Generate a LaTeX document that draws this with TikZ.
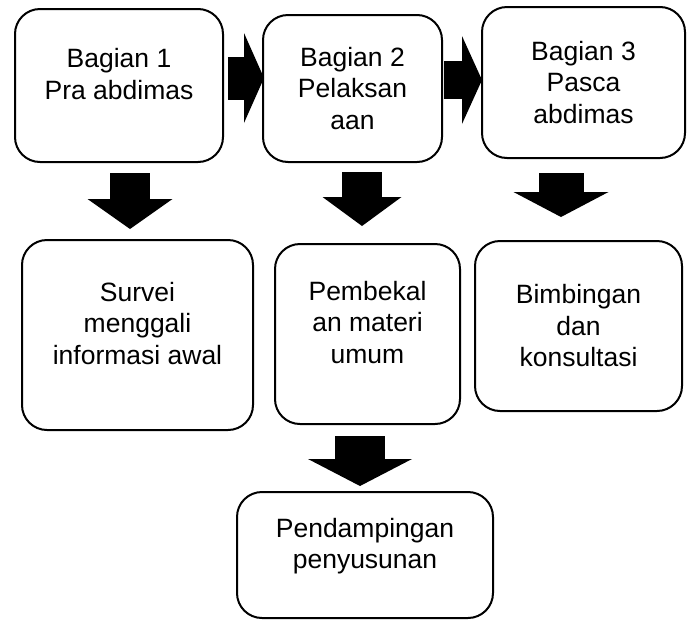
\documentclass[tikz,border=0pt]{standalone}
\usepackage{fontspec}
\setmainfont{Liberation Sans}
\usetikzlibrary{arrows.meta, positioning}

\begin{document}
\begin{tikzpicture}[
    x = 1pt, y = -1pt,
    box/.style = {draw, line width=2pt, rounded corners=25pt, inner sep=0pt,
                align=center, font=\fontsize{26.5}{31.5}\selectfont},
    blok/.style n args = {3}{line width=#1,
                -{Triangle[width=#2, length=#3, line width=0pt]}}
                    ]
\useasboundingbox (0,0) rectangle (691,619);

% top row
\node (n1) [box, minimum width=208pt, minimum height=153pt] at (119,85.5)
    {Bagian 1\\Pra abdimas\\[-8pt]\mbox{}};
\node (n2) [box, minimum width=179pt, minimum height=147pt] at (352.5,88.5)
    {Bagian 2\\Pelaksan\\aan};
\node (n3) [box, minimum width=203pt, minimum height=151pt] at (583.5,82.5)
    {Bagian 3\\Pasca\\abdimas};

% second row
\node (n4) [box, minimum width=231pt, minimum height=190pt] at (137.5,335)
    {Survei\\menggali\\informasi awal\\[-8pt]\mbox{}};
\node (n5) [box, minimum width=185pt, minimum height=180pt] at (367.5,334)
    {Pembekal\\an materi\\umum\\[-8pt]\mbox{}};
\node (n6) [box, minimum width=207pt, minimum height=170pt] at (578.5,326)
    {Bimbingan\\dan\\konsultasi};

\node (n7) [box, minimum width=256pt, minimum height=126pt] at (365,555)
    {Pendampingan\\penyusunan\\[-8pt]\mbox{}};

\draw[blok={43pt}{90pt}{20pt}, shorten <=4pt, shorten >=-2pt]
    ([yshift=7.5pt]n1.east) -- ([yshift=10.5pt]n2.west);
\draw[blok={38pt}{88pt}{20pt}, shorten <=1pt, shorten >=-1pt]
    ([yshift=8.5pt]n2.east) -- ([yshift=2.5pt]n3.west);

\draw[blok={40pt}{85pt}{30pt}, shorten <=10pt, shorten >=10pt]
    ([xshift=11pt]n1.south) -- ([xshift=-7.5pt]n4.north);
\draw[blok={40pt}{79pt}{29pt}, shorten <=9pt, shorten >=17pt]
    ([xshift=9.5pt]n2.south) -- ([xshift=-5.5pt]n5.north);
\draw[blok={45pt}{95pt}{25pt}, shorten <=14pt, shorten >=23pt]
    ([xshift=-22.5pt]n3.south) -- ([xshift=-17.5pt]n6.north);
\draw[blok={50pt}{104pt}{27pt}, shorten <=11pt, shorten >=5pt]
    ([xshift=-7.5pt]n5.south) -- ([xshift=-5pt]n7.north);

\end{tikzpicture}
\end{document}
